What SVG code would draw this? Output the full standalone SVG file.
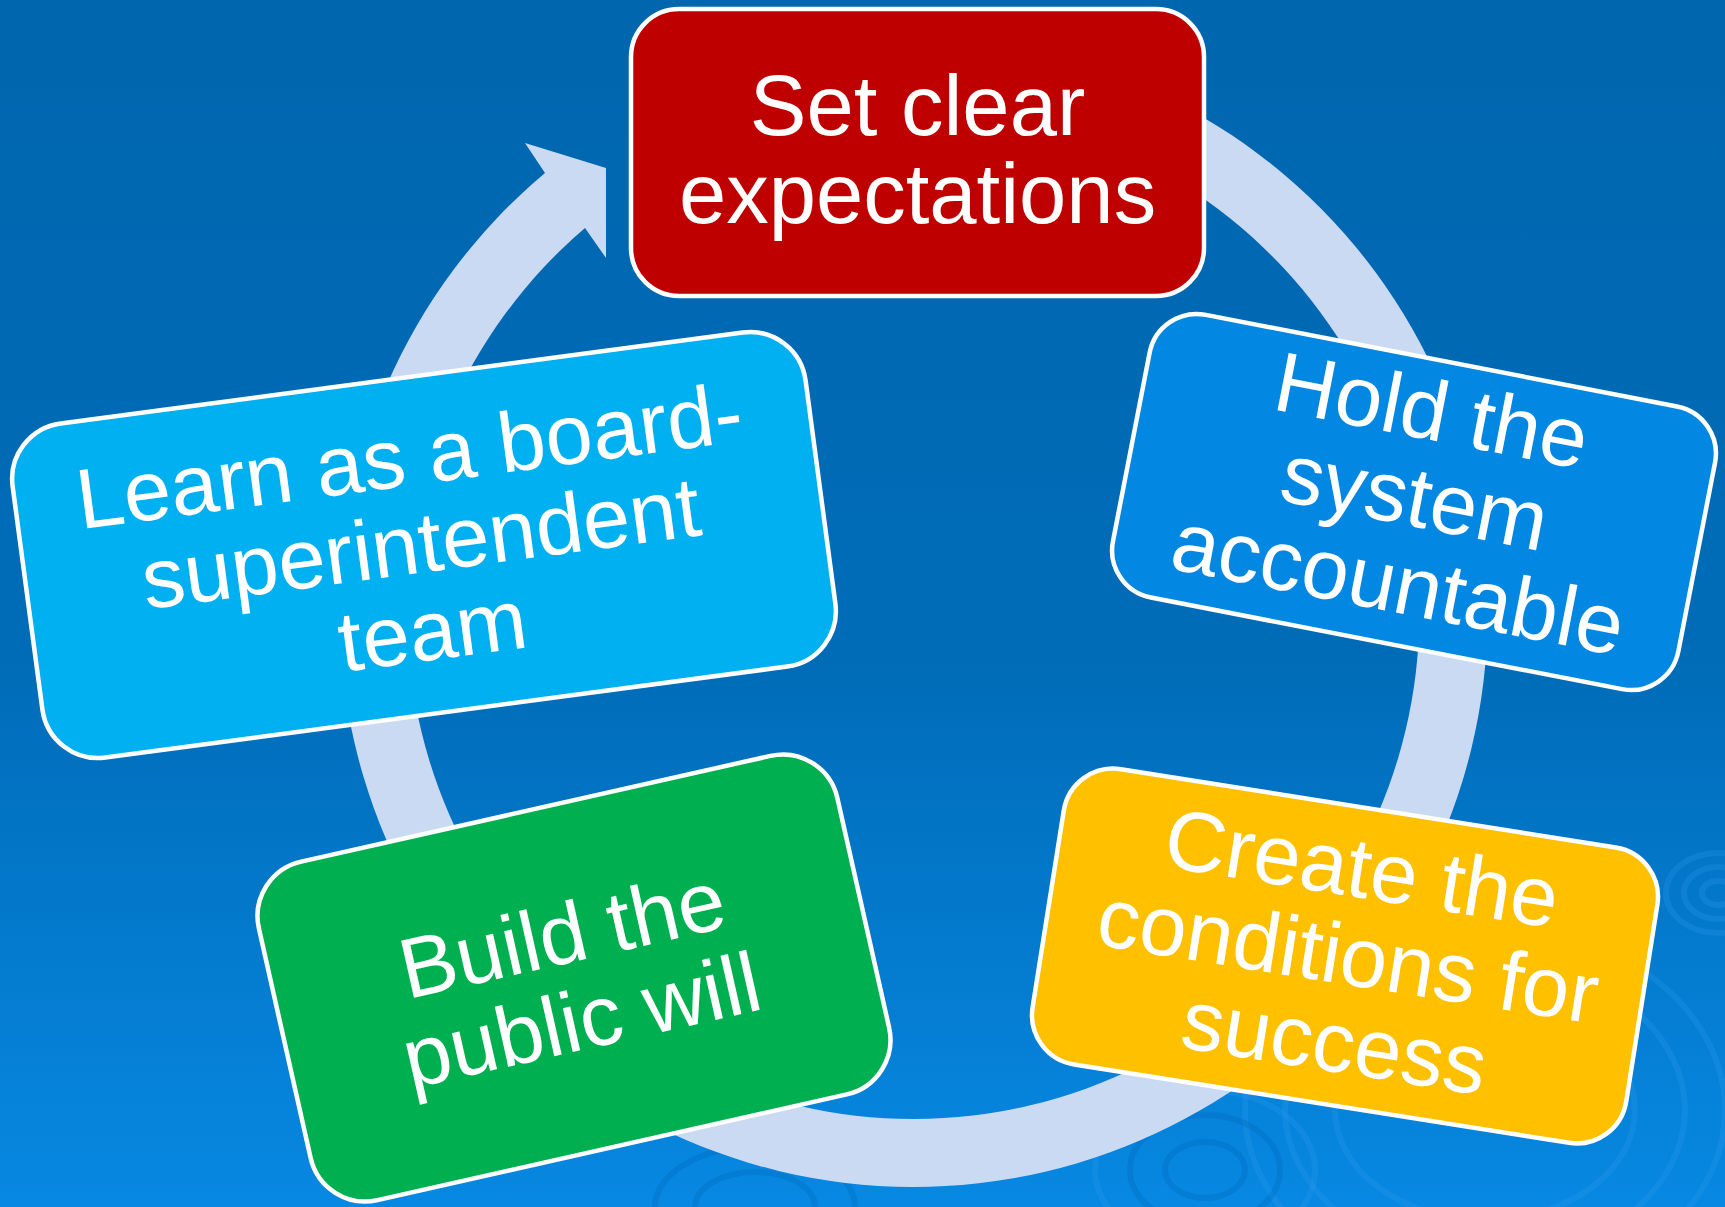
<svg xmlns="http://www.w3.org/2000/svg" width="1725" height="1207" viewBox="0 0 1725 1207">
  <defs>
    <linearGradient id="bg" x1="0" y1="0" x2="0" y2="1">
      <stop offset="0" stop-color="#0066AE"/>
      <stop offset="0.55" stop-color="#006CB8"/>
      <stop offset="1" stop-color="#0788E2"/>
    </linearGradient>
  </defs>
  <style>
    .box { stroke: #FFFFFF; stroke-width: 4.5; }
    .lbl { fill: #FFFFFF; font-family: "Liberation Sans", Arial, sans-serif; font-size: 85px; text-anchor: middle; }
    .ripple { fill: none; stroke: #2A9AEE; stroke-opacity: 0.28; stroke-width: 6; }
    .ripple-dark { fill: none; stroke: #0068B8; stroke-opacity: 0.3; stroke-width: 6; }
    .ring { fill: #CADAF3; }
  </style>

  <!-- background -->
  <rect x="0" y="0" width="1725" height="1207" fill="url(#bg)"/>

  <!-- faint water ripples -->
  <g id="ripples">
    <ellipse class="ripple" cx="1718" cy="893" rx="16" ry="12"/>
    <ellipse class="ripple" cx="1718" cy="893" rx="34" ry="26"/>
    <ellipse class="ripple" cx="1718" cy="893" rx="52" ry="40"/>
    <ellipse class="ripple" cx="1485" cy="1110" rx="150" ry="110"/>
    <ellipse class="ripple" cx="1485" cy="1110" rx="200" ry="150"/>
    <ellipse class="ripple" cx="1485" cy="1110" rx="240" ry="185"/>
    <ellipse class="ripple-dark" cx="1205" cy="1170" rx="40" ry="28"/>
    <ellipse class="ripple-dark" cx="1205" cy="1170" rx="75" ry="55"/>
    <ellipse class="ripple" cx="1205" cy="1170" rx="110" ry="80"/>
    <ellipse class="ripple-dark" cx="755" cy="1207" rx="60" ry="35"/>
    <ellipse class="ripple-dark" cx="755" cy="1207" rx="100" ry="60"/>
  </g>

  <!-- cycle connector: ring with arrowhead pointing into the first step -->
  <g id="connectors">
    <path class="ring" d="M 917 39 A 574 574 0 1 1 545 173 L 525 143 L 606 168 L 606 258 L 585 228 A 506 506 0 1 0 917 107 Z"/>
  </g>

  <g id="node-set-clear-expectations" transform="translate(917.5 152.5)">
    <rect class="box" x="-286.5" y="-143.5" width="573" height="287" rx="48" fill="#BF0000"/>
    <text class="lbl" x="0" y="-18">Set clear</text>
    <text class="lbl" x="0" y="70">expectations</text>
  </g>

  <g id="node-hold-system-accountable" transform="translate(1414 502) rotate(11)">
    <rect class="box" x="-288" y="-144" width="576" height="288" rx="48" fill="#0288E2"/>
    <text class="lbl" x="0" y="-64">Hold the</text>
    <text class="lbl" x="0" y="24">system</text>
    <text class="lbl" x="0" y="112">accountable</text>
  </g>

  <g id="node-create-conditions" transform="translate(1345 956) rotate(9)">
    <rect class="box" x="-300.5" y="-149.5" width="601" height="299" rx="50" fill="#FFC000"/>
    <text class="lbl" x="3" y="-60">Create the</text>
    <text class="lbl" x="3" y="28">conditions for</text>
    <text class="lbl" x="3" y="116">success</text>
  </g>

  <g id="node-build-public-will" transform="translate(574 978) rotate(-12.7)">
    <rect class="box" x="-296.5" y="-173.5" width="593" height="347" rx="56" fill="#00B050"/>
    <text class="lbl" x="-2" y="-16">Build the</text>
    <text class="lbl" x="-2" y="72">public will</text>
  </g>

  <g id="node-learn-team" transform="translate(424 545) rotate(-7.6)">
    <rect class="box" x="-400" y="-168.5" width="800" height="337" rx="56" fill="#00B0F0"/>
    <text class="lbl" x="-3" y="-61">Learn as a board-</text>
    <text class="lbl" x="-3" y="27">superintendent</text>
    <text class="lbl" x="-3" y="115">team</text>
  </g>
</svg>
